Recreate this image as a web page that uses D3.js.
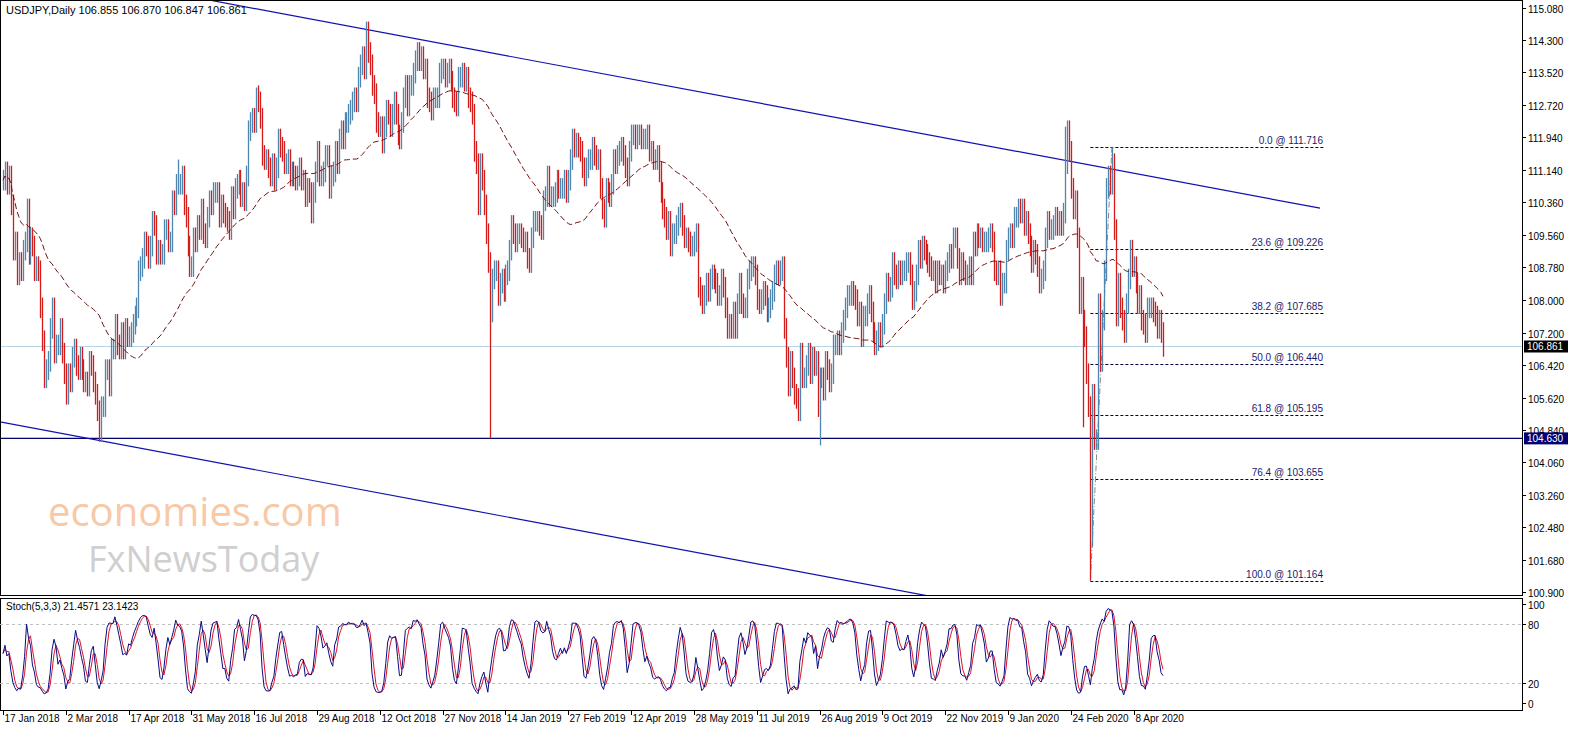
<!DOCTYPE html>
<html><head><meta charset="utf-8">
<script src="https://cdn.jsdelivr.net/npm/d3@7"></script>
<style>body{margin:0;background:#fff;overflow:hidden}text{font-family:"Liberation Sans",Arial,sans-serif;font-size:11px}</style>
</head><body><svg id="c" width="1596" height="743"></svg>
<script>
// ---- data ----
const dateLabels=["17 Jan 2018","2 Mar 2018","17 Apr 2018","31 May 2018","16 Jul 2018","29 Aug 2018","12 Oct 2018","27 Nov 2018","14 Jan 2019","27 Feb 2019","12 Apr 2019","28 May 2019","11 Jul 2019","26 Aug 2019","9 Oct 2019","22 Nov 2019","9 Jan 2020","24 Feb 2020","8 Apr 2020"];
const closes2018a=[110.9,111.1,110.8,111.0,110.3,109.2,109.4,108.6,108.9,108.7,109.2,109.4,110.2,109.1,109.5,109.3,108.7,108.8,108.7,107.8,107.0,106.1,106.3,106.5,107.3,107.8,106.7,106.9,106.9,107.3,106.7,106.2,
105.7,106.2,106.0,106.6,106.8,106.4,106.3,106.6,106.3,106.0,106.0,105.9,106.5,106.4,106.0,105.7,105.3,104.8,105.4,105.4,106.3,106.3,105.9,106.8,106.8,107.4,106.9,106.8,107.2,106.8,107.3,107.1,
107.1,107.2,107.4,107.6,107.8,108.7,108.8,109.0,109.4,109.3,109.0,109.3,109.9,109.8,109.1,109.2,109.1,109.1,109.7,109.7,109.4,109.4,110.4,110.3,110.8,110.8,110.8,111.0,110.3,110.0,109.3,108.8,
108.8,109.5,109.4,109.8,109.7,110.2,109.6,109.5,110.0,110.4,110.3,110.6,110.6,110.6,110.0,110.3,110.1,110.0,109.9,109.7,110.5,110.2,110.7,110.8,110.9,110.5,110.6,110.4,111.0,112.1,112.3,112.4];
const closes2018b=[112.3,112.9,112.8,112.4,111.5,111.4,111.4,111.2,111.0,111.3,110.9,111.2,111.9,111.7,111.6,111.3,111.3,111.4,111.0,111.1,111.0,110.9,111.0,111.2,110.9,110.9,110.5,110.7,110.6,110.1,110.6,111.1,
111.6,111.0,111.0,111.1,111.5,111.5,110.7,111.0,111.1,111.6,111.3,111.9,112.1,111.9,112.3,112.3,112.5,112.6,112.8,112.9,112.8,113.4,113.7,113.9,113.6,114.5,114.0,113.7,113.2,113.0,112.3,112.2,
112.2,111.8,112.2,112.6,112.5,112.2,112.5,112.8,112.5,112.0,111.9,112.3,112.9,113.2,112.7,113.2,113.2,113.5,113.8,114.0,113.8,113.9,113.6,113.6,112.9,112.8,112.6,112.9,112.9,112.9,113.5,113.6,
113.6,113.4,113.5,113.6,113.3,112.9,112.8,112.7,113.4,113.4,113.5,113.3,113.4,112.9,112.8,112.5,111.6,111.3,110.3,111.3,110.9,110.3,109.6,108.9,107.7,108.5,108.7,108.7,108.1,108.4,108.5,108.2];
const closes2019a=[108.6,108.7,109.2,109.8,109.6,109.4,109.6,109.6,109.5,109.4,109.4,109.0,108.9,109.5,109.9,109.9,109.9,109.8,109.7,110.4,110.5,111.0,110.5,110.5,110.5,110.6,110.9,110.7,110.7,110.7,110.9,110.6,
110.9,111.4,111.9,111.7,111.8,111.7,111.6,111.2,111.0,111.2,111.4,111.4,111.7,111.5,111.4,111.4,110.7,110.2,110.0,110.7,110.6,110.5,110.8,111.4,111.3,111.5,111.6,111.7,111.5,111.2,111.0,111.6,
112.0,112.0,111.9,112.0,112.0,111.9,111.9,111.9,112.0,111.6,111.6,111.4,111.4,111.5,111.1,110.6,110.2,110.0,109.7,109.9,109.3,109.6,109.6,109.8,110.0,110.1,109.8,109.5,109.5,109.4,109.3,109.3,
109.4,109.6,108.3,108.1,107.9,108.1,108.4,108.2,108.5,108.6,108.5,108.4,108.1,108.1,108.5,108.3,107.8,107.3,107.4,107.3,107.7,107.3,107.9,108.4,107.9,107.8,107.8,108.5,108.7,108.8,108.8,108.6];
const closes2019b=[108.0,107.9,108.0,108.2,108.1,107.7,107.8,108.0,108.2,108.6,108.7,108.6,108.7,108.8,107.3,106.6,105.9,106.5,106.1,105.7,105.6,105.3,106.7,106.1,106.1,106.4,106.7,106.2,106.6,106.4,106.5,105.4,
106.1,106.1,105.8,106.5,106.3,106.0,106.2,106.9,106.9,107.0,106.9,107.2,107.5,107.8,108.1,108.1,108.2,108.1,108.0,107.6,107.7,107.1,107.6,107.6,107.9,108.1,107.7,107.2,106.9,107.0,107.2,107.1,
107.4,107.9,108.4,108.2,108.3,108.9,108.6,108.5,108.7,108.6,108.7,108.7,108.9,108.9,108.6,108.0,108.2,108.6,109.2,109.0,109.3,109.2,109.1,108.9,108.8,108.7,108.7,108.4,108.7,108.6,108.6,108.4,
108.7,108.9,109.1,109.0,109.5,109.5,109.0,108.6,108.9,108.7,108.6,108.6,108.8,108.6,109.4,109.3,109.6,109.5,109.5,109.4,109.4,109.4,109.5,109.6,109.4,108.7,108.6,108.7,108.1,108.4,108.4,109.2];
const closes2020=[109.5,109.6,109.5,110.0,110.0,110.2,110.1,110.2,109.8,109.9,109.6,109.3,108.9,109.2,109.1,108.8,108.4,108.5,108.7,109.5,109.9,109.7,109.7,109.8,110.0,109.8,109.9,109.8,110.1,111.3,112.1,111.6,
110.7,110.2,110.4,109.5,107.9,108.3,107.5,107.1,106.2,105.4,102.3,105.7,104.6,104.6,107.9,106.5,107.5,108.7,110.7,111.0,110.8,111.3,109.7,107.6,108.4,107.8,107.5,107.2,107.9,108.5,109.2,108.8,
108.8,108.4,107.9,108.1,107.5,107.4,107.2,107.8,107.8,107.8,107.7,107.6,107.3,107.5,107.2,106.861];
const wickHighs=[[89,111.4],[130,113.2],[185,114.55],[541,112.2],[565,111.7]];
const wickLows=[[49,104.63],[248,104.63],[416,104.46],[554,101.18],[555,102.0],[550,104.9]];
const dailyPad=0.25;
const priceTicks=[115.080,114.300,113.520,112.720,111.940,111.140,110.360,109.560,108.780,108.000,107.200,106.420,105.620,104.840,104.060,103.260,102.480,101.680,100.900];
const fibLevels=[[0.0,111.716],[23.6,109.226],[38.2,107.685],[50.0,106.440],[61.8,105.195],[76.4,103.655],[100.0,101.164]];
const upperTrend=[[105.5,115.27],[671,110.22]];
const lowerTrend=[[-1.5,105.03],[472,100.80]];
const supportLevel=104.630, lastPrice=106.861;
const stochTicks=[100,80,20,0];
const maPeriod=50;

// ---- build ----
const closes=[].concat(closes2018a,closes2018b,closes2019a,closes2019b,closes2020);
const bars=closes.map((c,i)=>{const o=i?closes[i-1]:c;return {i,o,c,h:Math.max(o,c)+dailyPad,l:Math.min(o,c)-dailyPad};});
wickHighs.forEach(([i,v])=>{if(bars[i])bars[i].h=Math.max(bars[i].h,v);});
wickLows.forEach(([i,v])=>{if(bars[i])bars[i].l=Math.min(bars[i].l,v);});
const ma=bars.map((b,i)=>{const s=Math.max(0,i-maPeriod+1);return d3.mean(closes.slice(s,i+1));});
const K=5,S=3,D=3;
const kRaw=bars.map((b,i)=>{const s=Math.max(0,i-K+1);const seg=bars.slice(s,i+1);return {hh:d3.max(seg,d=>d.h),ll:d3.min(seg,d=>d.l),c:b.c};});
const kMain=kRaw.map((r,i)=>{const s=Math.max(0,i-S+1);const seg=kRaw.slice(s,i+1);const num=d3.sum(seg,d=>d.c-d.ll),den=d3.sum(seg,d=>d.hh-d.ll);return den?100*num/den:50;});
const kSig=kMain.map((v,i)=>d3.mean(kMain.slice(Math.max(0,i-D+1),i+1)));

const svg=d3.select("#c");
const W=1522, mainTop=1, mainBot=595, stTop=598, stBot=710;
const x=d3.scaleLinear().domain([0,591]).range([3,1163]);
const y=d3.scaleLinear().domain([100.9,115.08]).range([592,8]);
const ys=d3.scaleLinear().domain([0,100]).range([703,604]);

const defs=svg.append("defs");
defs.append("clipPath").attr("id","cm").append("rect").attr("x",0).attr("y",mainTop).attr("width",W).attr("height",mainBot-mainTop);
defs.append("clipPath").attr("id","cs").append("rect").attr("x",0).attr("y",stTop).attr("width",W).attr("height",stBot-stTop);

// watermark
const wm=svg.append("g");
wm.append("text").attr("x",48).attr("y",526).style("font-size","40px").style("font-family","'Open Sans',sans-serif").attr("fill","#f7c9a6").text("economies.com");
wm.append("text").attr("x",88).attr("y",572).style("font-size","36px").style("font-family","'Open Sans',sans-serif").attr("fill","#cfcfcf").text("FxNewsToday");

const gm=svg.append("g").attr("clip-path","url(#cm)");
gm.append("line").attr("x1",0).attr("x2",W).attr("y1",y(lastPrice)).attr("y2",y(lastPrice)).attr("stroke","#b8d4e0");
gm.append("line").attr("x1",0).attr("x2",W).attr("y1",y(supportLevel)).attr("y2",y(supportLevel)).attr("stroke","#000070").attr("stroke-width",1.2);
[upperTrend,lowerTrend].forEach(t=>gm.append("line").attr("x1",x(t[0][0])).attr("y1",y(t[0][1])).attr("x2",x(t[1][0])).attr("y2",y(t[1][1])).attr("stroke","#1010b0").attr("stroke-width",1.2));
const fibX1=x(554), fibX2=1325;
fibLevels.forEach(([p,v])=>{
  gm.append("line").attr("x1",fibX1).attr("x2",fibX2).attr("y1",Math.round(y(v))+0.5).attr("y2",Math.round(y(v))+0.5).attr("stroke","#000040").attr("stroke-dasharray","3,2");
  gm.append("text").attr("x",1323).attr("y",y(v)-3).attr("text-anchor","end").attr("fill","#1a1a70").style("font-size","10px").text(`${p.toFixed(1)} @ ${v.toFixed(3)}`);
});
gm.append("line").attr("x1",x(554)).attr("y1",y(101.164)).attr("x2",x(565)).attr("y2",y(111.716)).attr("stroke","#888").attr("stroke-dasharray","6,2,1,2");
gm.selectAll("line.bar").data(bars).join("line").attr("class","bar")
  .attr("x1",d=>Math.round(x(d.i))+0.5).attr("x2",d=>Math.round(x(d.i))+0.5)
  .attr("y1",d=>y(d.h)).attr("y2",d=>y(d.l))
  .attr("stroke",d=>d.c>=d.o?"#4f86b0":"#d51a1a").attr("stroke-width",1.3);
gm.append("path").datum(ma).attr("fill","none").attr("stroke","#6e0f0f").attr("stroke-dasharray","6,3")
  .attr("d",d3.line().x((d,i)=>x(i)).y(d=>y(d)));

svg.append("rect").attr("x",0.5).attr("y",0.5).attr("width",W).attr("height",mainBot).attr("fill","none").attr("stroke","#000");
svg.append("rect").attr("x",0.5).attr("y",stTop+0.5).attr("width",W).attr("height",stBot-stTop).attr("fill","none").attr("stroke","#000");

svg.append("text").attr("x",6).attr("y",14).attr("fill","#000").text("USDJPY,Daily  106.855 106.870 106.847 106.861");

const ga=svg.append("g");
priceTicks.forEach(v=>{const yy=Math.round(y(v))+0.5;
  ga.append("line").attr("x1",W).attr("x2",W+4).attr("y1",yy).attr("y2",yy).attr("stroke","#000");
  ga.append("text").attr("x",W+6).attr("y",yy+4).style("font-size","10px").text(v.toFixed(3));});
[[lastPrice,"#000","#fff"],[supportLevel,"#000070","#fff"]].forEach(([v,bg,fg])=>{
  ga.append("rect").attr("x",W+2).attr("y",y(v)-6).attr("width",44).attr("height",12).attr("fill",bg);
  ga.append("text").attr("x",W+5).attr("y",y(v)+4).attr("fill",fg).style("font-size","10px").text(v.toFixed(3));});

const gs=svg.append("g").attr("clip-path","url(#cs)");
[80,20].forEach(v=>gs.append("line").attr("x1",0).attr("x2",W).attr("y1",Math.round(ys(v))+0.5).attr("y2",Math.round(ys(v))+0.5).attr("stroke","#c0c0c0").attr("stroke-dasharray","3,3"));
gs.append("path").datum(kSig).attr("fill","none").attr("stroke","#e0102a").attr("d",d3.line().x((d,i)=>x(i)).y(d=>ys(d)));
gs.append("path").datum(kMain).attr("fill","none").attr("stroke","#0a0a80").attr("d",d3.line().x((d,i)=>x(i)).y(d=>ys(d)));
svg.append("text").attr("x",6).attr("y",610).style("font-size","10px").text(`Stoch(5,3,3) 21.4571 23.1423`);
stochTicks.forEach(v=>{const yy=Math.round(ys(v))+0.5;
  svg.append("line").attr("x1",W).attr("x2",W+4).attr("y1",yy).attr("y2",yy).attr("stroke","#000");
  svg.append("text").attr("x",W+6).attr("y",yy+4).style("font-size","10px").text(v);});

dateLabels.forEach((t,k)=>{const xx=Math.round(x(k*32))+0.5;
  svg.append("line").attr("x1",xx).attr("x2",xx).attr("y1",stBot).attr("y2",stBot+5).attr("stroke","#000");
  svg.append("text").attr("x",xx+1).attr("y",722).style("font-size","10px").text(t);});
</script></body></html>
